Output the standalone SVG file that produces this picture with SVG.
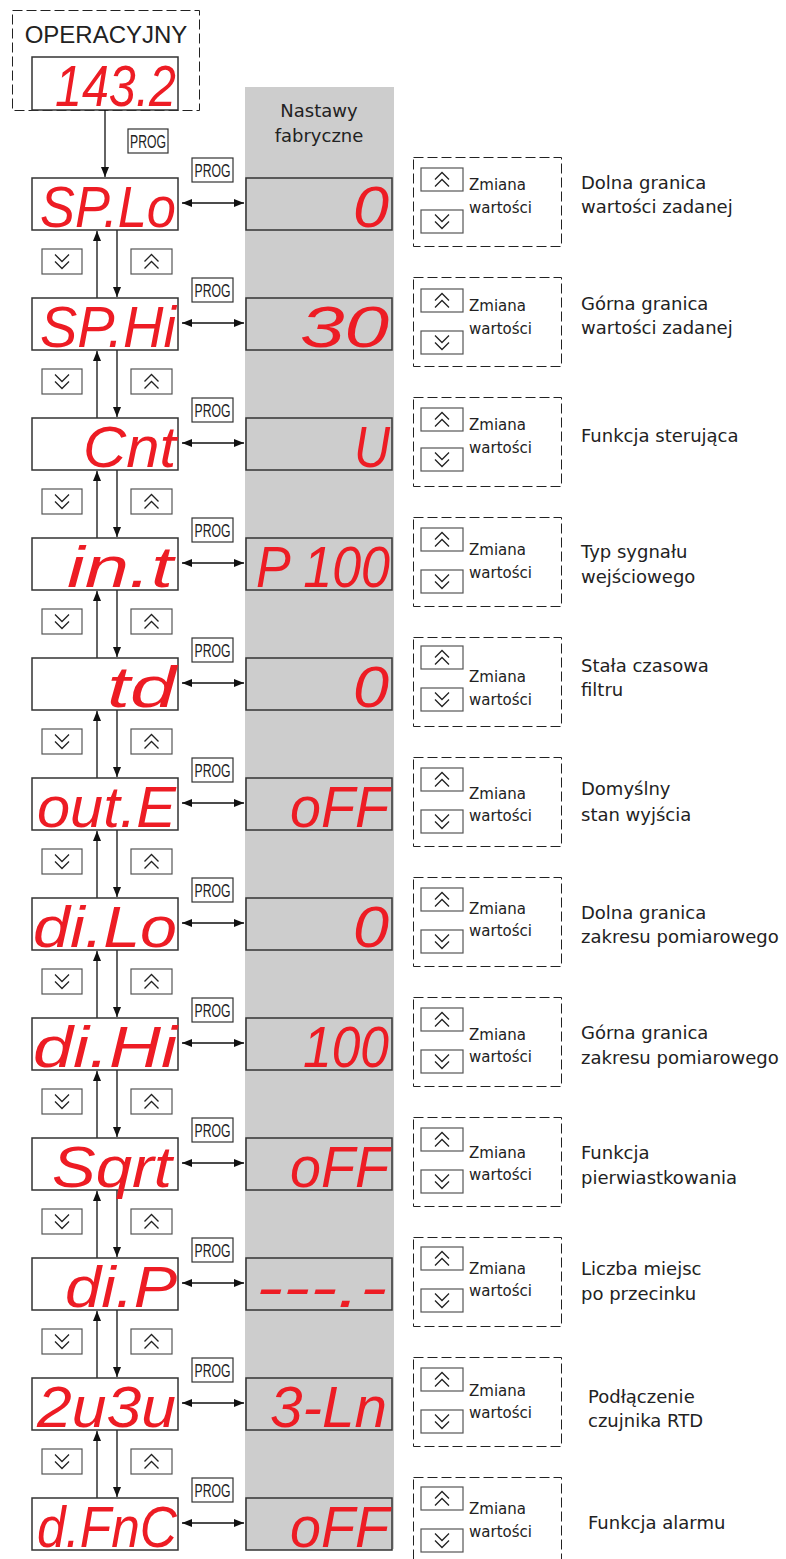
<svg xmlns="http://www.w3.org/2000/svg" xmlns:xlink="http://www.w3.org/1999/xlink" width="786" height="1559" viewBox="0 0 786 1559">
<style>
.disp{fill:#fff;stroke:#333;stroke-width:1.5}
.fdisp{fill:#cdcdcd;stroke:#333;stroke-width:1.5}
.seg{font-family:"Liberation Sans",sans-serif;font-style:italic;font-size:58px;fill:#ed1c24}
.btn{fill:#fff;stroke:#555;stroke-width:1.2}
.prog{fill:#fff;stroke:#333;stroke-width:1.2}
.progt{font-family:"Liberation Sans",sans-serif;font-size:18px;fill:#222;text-anchor:middle}
.dash{fill:none;stroke:#222;stroke-width:1;stroke-dasharray:10 4}
.lbl{font-family:"DejaVu Sans",sans-serif;font-size:15px;fill:#222}
.desc{font-family:"DejaVu Sans",sans-serif;font-size:18px;fill:#222}
.conn{stroke:#111;stroke-width:1.3;fill:none}
.chev{fill:none;stroke:#222;stroke-width:1.3}
</style>
<defs>
<marker id="ah" markerUnits="userSpaceOnUse" markerWidth="10" markerHeight="8" refX="10" refY="4" orient="auto-start-reverse"><path d="M0,0 L10,4 L0,8 z" fill="#111"/></marker>
<path id="chevD" class="chev" d="M-7,-7 L0,0 L7,-7 M-7,0 L0,7 L7,0"/>
<path id="chevU" class="chev" d="M-7,7 L0,0 L7,7 M-7,0 L0,-7 L7,0"/>
</defs>
<rect x="245" y="87" width="149" height="1462" fill="#cdcdcd"/>
<text x="319" y="117" class="desc" text-anchor="middle">Nastawy</text>
<text x="319" y="142" class="desc" text-anchor="middle">fabryczne</text>

<g id="operacyjny">
<rect x="12.5" y="10.5" width="187" height="100" class="dash"/>
<text x="106" y="43" font-family="Liberation Sans, sans-serif" font-size="24" fill="#222" text-anchor="middle">OPERACYJNY</text>
<rect x="32" y="57" width="146" height="53" class="disp"/>
<text x="55" y="106" class="seg" textLength="121" lengthAdjust="spacingAndGlyphs">143.2</text>
</g>

<g id="connectors">
<line x1="105" y1="110" x2="105" y2="177" class="conn" marker-end="url(#ah)"/>
<rect x="128" y="129" width="40" height="24" class="prog"/>
<text x="148" y="147.5" class="progt" textLength="36" lengthAdjust="spacingAndGlyphs">PROG</text>
<g marker-end="url(#ah)" class="conn">
<line x1="97" y1="298" x2="97" y2="231"/><line x1="117" y1="230" x2="117" y2="297"/>
<line x1="97" y1="418" x2="97" y2="351"/><line x1="117" y1="350" x2="117" y2="417"/>
<line x1="97" y1="538" x2="97" y2="471"/><line x1="117" y1="470" x2="117" y2="537"/>
<line x1="97" y1="658" x2="97" y2="591"/><line x1="117" y1="590" x2="117" y2="657"/>
<line x1="97" y1="778" x2="97" y2="711"/><line x1="117" y1="710" x2="117" y2="777"/>
<line x1="97" y1="898" x2="97" y2="831"/><line x1="117" y1="830" x2="117" y2="897"/>
<line x1="97" y1="1018" x2="97" y2="951"/><line x1="117" y1="950" x2="117" y2="1017"/>
<line x1="97" y1="1138" x2="97" y2="1071"/><line x1="117" y1="1070" x2="117" y2="1137"/>
<line x1="97" y1="1258" x2="97" y2="1191"/><line x1="117" y1="1190" x2="117" y2="1257"/>
<line x1="97" y1="1378" x2="97" y2="1311"/><line x1="117" y1="1310" x2="117" y2="1377"/>
<line x1="97" y1="1498" x2="97" y2="1431"/><line x1="117" y1="1430" x2="117" y2="1497"/>
</g>
<g class="conn" marker-start="url(#ah)" marker-end="url(#ah)">
<line x1="182" y1="203" x2="244" y2="203"/>
<line x1="182" y1="323" x2="244" y2="323"/>
<line x1="182" y1="443" x2="244" y2="443"/>
<line x1="182" y1="563" x2="244" y2="563"/>
<line x1="182" y1="683" x2="244" y2="683"/>
<line x1="182" y1="803" x2="244" y2="803"/>
<line x1="182" y1="923" x2="244" y2="923"/>
<line x1="182" y1="1043" x2="244" y2="1043"/>
<line x1="182" y1="1163" x2="244" y2="1163"/>
<line x1="182" y1="1283" x2="244" y2="1283"/>
<line x1="182" y1="1403" x2="244" y2="1403"/>
<line x1="182" y1="1523" x2="244" y2="1523"/>
</g>
<g id="nav-buttons">
<rect x="42" y="249" width="40" height="25" class="btn"/><use href="#chevD" x="62" y="261.5"/><rect x="131" y="249" width="41" height="25" class="btn"/><use href="#chevU" x="151.5" y="261.5"/>
<rect x="42" y="369" width="40" height="25" class="btn"/><use href="#chevD" x="62" y="381.5"/><rect x="131" y="369" width="41" height="25" class="btn"/><use href="#chevU" x="151.5" y="381.5"/>
<rect x="42" y="489" width="40" height="25" class="btn"/><use href="#chevD" x="62" y="501.5"/><rect x="131" y="489" width="41" height="25" class="btn"/><use href="#chevU" x="151.5" y="501.5"/>
<rect x="42" y="609" width="40" height="25" class="btn"/><use href="#chevD" x="62" y="621.5"/><rect x="131" y="609" width="41" height="25" class="btn"/><use href="#chevU" x="151.5" y="621.5"/>
<rect x="42" y="729" width="40" height="25" class="btn"/><use href="#chevD" x="62" y="741.5"/><rect x="131" y="729" width="41" height="25" class="btn"/><use href="#chevU" x="151.5" y="741.5"/>
<rect x="42" y="849" width="40" height="25" class="btn"/><use href="#chevD" x="62" y="861.5"/><rect x="131" y="849" width="41" height="25" class="btn"/><use href="#chevU" x="151.5" y="861.5"/>
<rect x="42" y="969" width="40" height="25" class="btn"/><use href="#chevD" x="62" y="981.5"/><rect x="131" y="969" width="41" height="25" class="btn"/><use href="#chevU" x="151.5" y="981.5"/>
<rect x="42" y="1089" width="40" height="25" class="btn"/><use href="#chevD" x="62" y="1101.5"/><rect x="131" y="1089" width="41" height="25" class="btn"/><use href="#chevU" x="151.5" y="1101.5"/>
<rect x="42" y="1209" width="40" height="25" class="btn"/><use href="#chevD" x="62" y="1221.5"/><rect x="131" y="1209" width="41" height="25" class="btn"/><use href="#chevU" x="151.5" y="1221.5"/>
<rect x="42" y="1329" width="40" height="25" class="btn"/><use href="#chevD" x="62" y="1341.5"/><rect x="131" y="1329" width="41" height="25" class="btn"/><use href="#chevU" x="151.5" y="1341.5"/>
<rect x="42" y="1449" width="40" height="25" class="btn"/><use href="#chevD" x="62" y="1461.5"/><rect x="131" y="1449" width="41" height="25" class="btn"/><use href="#chevU" x="151.5" y="1461.5"/>
</g>
<g id="prog-labels">
<rect x="192" y="158" width="41" height="24" class="prog"/><text x="212.5" y="176.5" class="progt" textLength="36" lengthAdjust="spacingAndGlyphs">PROG</text>
<rect x="192" y="278" width="41" height="24" class="prog"/><text x="212.5" y="296.5" class="progt" textLength="36" lengthAdjust="spacingAndGlyphs">PROG</text>
<rect x="192" y="398" width="41" height="24" class="prog"/><text x="212.5" y="416.5" class="progt" textLength="36" lengthAdjust="spacingAndGlyphs">PROG</text>
<rect x="192" y="518" width="41" height="24" class="prog"/><text x="212.5" y="536.5" class="progt" textLength="36" lengthAdjust="spacingAndGlyphs">PROG</text>
<rect x="192" y="638" width="41" height="24" class="prog"/><text x="212.5" y="656.5" class="progt" textLength="36" lengthAdjust="spacingAndGlyphs">PROG</text>
<rect x="192" y="758" width="41" height="24" class="prog"/><text x="212.5" y="776.5" class="progt" textLength="36" lengthAdjust="spacingAndGlyphs">PROG</text>
<rect x="192" y="878" width="41" height="24" class="prog"/><text x="212.5" y="896.5" class="progt" textLength="36" lengthAdjust="spacingAndGlyphs">PROG</text>
<rect x="192" y="998" width="41" height="24" class="prog"/><text x="212.5" y="1016.5" class="progt" textLength="36" lengthAdjust="spacingAndGlyphs">PROG</text>
<rect x="192" y="1118" width="41" height="24" class="prog"/><text x="212.5" y="1136.5" class="progt" textLength="36" lengthAdjust="spacingAndGlyphs">PROG</text>
<rect x="192" y="1238" width="41" height="24" class="prog"/><text x="212.5" y="1256.5" class="progt" textLength="36" lengthAdjust="spacingAndGlyphs">PROG</text>
<rect x="192" y="1358" width="41" height="24" class="prog"/><text x="212.5" y="1376.5" class="progt" textLength="36" lengthAdjust="spacingAndGlyphs">PROG</text>
<rect x="192" y="1478" width="41" height="24" class="prog"/><text x="212.5" y="1496.5" class="progt" textLength="36" lengthAdjust="spacingAndGlyphs">PROG</text>
</g>
</g>

<g id="row-splo">
<rect x="32" y="178" width="146" height="52" class="disp"/><text x="40" y="227" class="seg" textLength="136" lengthAdjust="spacingAndGlyphs">SP.Lo</text>
<rect x="246" y="178" width="146" height="52" class="fdisp"/><text x="353" y="227" class="seg" textLength="36" lengthAdjust="spacingAndGlyphs">0</text>
<rect x="413.5" y="157.5" width="148" height="89" class="dash"/>
<rect x="421" y="168" width="42" height="23" class="btn"/><use href="#chevU" x="442" y="179.5"/>
<rect x="421" y="210" width="42" height="23" class="btn"/><use href="#chevD" x="442" y="221.5"/>
<text x="469" y="190" class="lbl">Zmiana</text><text x="469" y="213" class="lbl">wartości</text>
<text x="581" y="189" class="desc">Dolna granica</text><text x="581" y="213" class="desc">wartości zadanej</text>
</g>

<g id="row-sphi">
<rect x="32" y="298" width="146" height="52" class="disp"/><text x="40" y="347" class="seg" textLength="136" lengthAdjust="spacingAndGlyphs">SP.Hi</text>
<rect x="246" y="298" width="146" height="52" class="fdisp"/><text x="300" y="347" class="seg" textLength="89" lengthAdjust="spacingAndGlyphs">30</text>
<rect x="413.5" y="277.5" width="148" height="89" class="dash"/>
<rect x="421" y="289" width="42" height="23" class="btn"/><use href="#chevU" x="442" y="300.5"/>
<rect x="421" y="331" width="42" height="23" class="btn"/><use href="#chevD" x="442" y="342.5"/>
<text x="469" y="311" class="lbl">Zmiana</text><text x="469" y="334" class="lbl">wartości</text>
<text x="581" y="310" class="desc">Górna granica</text><text x="581" y="334" class="desc">wartości zadanej</text>
</g>

<g id="row-cnt">
<rect x="32" y="418" width="146" height="52" class="disp"/><text x="83" y="467" class="seg" textLength="93" lengthAdjust="spacingAndGlyphs">Cnt</text>
<rect x="246" y="418" width="146" height="52" class="fdisp"/><text x="354" y="467" class="seg" textLength="36" lengthAdjust="spacingAndGlyphs">U</text>
<rect x="413.5" y="397.5" width="148" height="89" class="dash"/>
<rect x="421" y="408" width="42" height="23" class="btn"/><use href="#chevU" x="442" y="419.5"/>
<rect x="421" y="448" width="42" height="23" class="btn"/><use href="#chevD" x="442" y="459.5"/>
<text x="469" y="430" class="lbl">Zmiana</text><text x="469" y="453" class="lbl">wartości</text>
<text x="581" y="442" class="desc">Funkcja sterująca</text>
</g>

<g id="row-int">
<rect x="32" y="538" width="146" height="52" class="disp"/><text x="67" y="587" class="seg" textLength="106" lengthAdjust="spacingAndGlyphs">in.t</text>
<rect x="246" y="538" width="146" height="52" class="fdisp"/><text x="256" y="587" class="seg" textLength="134" lengthAdjust="spacingAndGlyphs">P 100</text>
<rect x="413.5" y="517.5" width="148" height="89" class="dash"/>
<rect x="421" y="528" width="42" height="23" class="btn"/><use href="#chevU" x="442" y="539.5"/>
<rect x="421" y="570" width="42" height="23" class="btn"/><use href="#chevD" x="442" y="581.5"/>
<text x="469" y="555" class="lbl">Zmiana</text><text x="469" y="578" class="lbl">wartości</text>
<text x="581" y="558" class="desc">Typ sygnału</text><text x="581" y="583" class="desc">wejściowego</text>
</g>

<g id="row-td">
<rect x="32" y="658" width="146" height="52" class="disp"/><text x="107" y="707" class="seg" textLength="69" lengthAdjust="spacingAndGlyphs">td</text>
<rect x="246" y="658" width="146" height="52" class="fdisp"/><text x="353" y="707" class="seg" textLength="36" lengthAdjust="spacingAndGlyphs">0</text>
<rect x="413.5" y="637.5" width="148" height="89" class="dash"/>
<rect x="421" y="646" width="42" height="23" class="btn"/><use href="#chevU" x="442" y="657.5"/>
<rect x="421" y="688" width="42" height="23" class="btn"/><use href="#chevD" x="442" y="699.5"/>
<text x="469" y="682" class="lbl">Zmiana</text><text x="469" y="705" class="lbl">wartości</text>
<text x="581" y="672" class="desc">Stała czasowa</text><text x="581" y="696" class="desc">filtru</text>
</g>

<g id="row-oute">
<rect x="32" y="778" width="146" height="52" class="disp"/><text x="37" y="827" class="seg" textLength="139" lengthAdjust="spacingAndGlyphs">out.E</text>
<rect x="246" y="778" width="146" height="52" class="fdisp"/><text x="290" y="827" class="seg" textLength="99" lengthAdjust="spacingAndGlyphs">oFF</text>
<rect x="413.5" y="757.5" width="148" height="89" class="dash"/>
<rect x="421" y="768" width="42" height="23" class="btn"/><use href="#chevU" x="442" y="779.5"/>
<rect x="421" y="810" width="42" height="23" class="btn"/><use href="#chevD" x="442" y="821.5"/>
<text x="469" y="799" class="lbl">Zmiana</text><text x="469" y="821" class="lbl">wartości</text>
<text x="581" y="795" class="desc">Domyślny</text><text x="581" y="821" class="desc">stan wyjścia</text>
</g>

<g id="row-dilo">
<rect x="32" y="898" width="146" height="52" class="disp"/><text x="33" y="947" class="seg" textLength="144" lengthAdjust="spacingAndGlyphs">di.Lo</text>
<rect x="246" y="898" width="146" height="52" class="fdisp"/><text x="353" y="947" class="seg" textLength="36" lengthAdjust="spacingAndGlyphs">0</text>
<rect x="413.5" y="877.5" width="148" height="89" class="dash"/>
<rect x="421" y="888" width="42" height="23" class="btn"/><use href="#chevU" x="442" y="899.5"/>
<rect x="421" y="930" width="42" height="23" class="btn"/><use href="#chevD" x="442" y="941.5"/>
<text x="469" y="914" class="lbl">Zmiana</text><text x="469" y="936" class="lbl">wartości</text>
<text x="581" y="919" class="desc">Dolna granica</text><text x="581" y="943" class="desc">zakresu pomiarowego</text>
</g>

<g id="row-dihi">
<rect x="32" y="1018" width="146" height="52" class="disp"/><text x="33" y="1067" class="seg" textLength="144" lengthAdjust="spacingAndGlyphs">di.Hi</text>
<rect x="246" y="1018" width="146" height="52" class="fdisp"/><text x="303" y="1067" class="seg" textLength="86" lengthAdjust="spacingAndGlyphs">100</text>
<rect x="413.5" y="997.5" width="148" height="89" class="dash"/>
<rect x="421" y="1008" width="42" height="23" class="btn"/><use href="#chevU" x="442" y="1019.5"/>
<rect x="421" y="1050" width="42" height="23" class="btn"/><use href="#chevD" x="442" y="1061.5"/>
<text x="469" y="1040" class="lbl">Zmiana</text><text x="469" y="1062" class="lbl">wartości</text>
<text x="581" y="1039" class="desc">Górna granica</text><text x="581" y="1064" class="desc">zakresu pomiarowego</text>
</g>

<g id="row-sqrt">
<rect x="32" y="1138" width="146" height="52" class="disp"/><text x="52" y="1187" class="seg" textLength="120" lengthAdjust="spacingAndGlyphs">Sqrt</text>
<rect x="246" y="1138" width="146" height="52" class="fdisp"/><text x="290" y="1187" class="seg" textLength="99" lengthAdjust="spacingAndGlyphs">oFF</text>
<rect x="413.5" y="1117.5" width="148" height="89" class="dash"/>
<rect x="421" y="1128" width="42" height="23" class="btn"/><use href="#chevU" x="442" y="1139.5"/>
<rect x="421" y="1170" width="42" height="23" class="btn"/><use href="#chevD" x="442" y="1181.5"/>
<text x="469" y="1158" class="lbl">Zmiana</text><text x="469" y="1180" class="lbl">wartości</text>
<text x="581" y="1159" class="desc">Funkcja</text><text x="581" y="1184" class="desc">pierwiastkowania</text>
</g>

<g id="row-dip">
<rect x="32" y="1258" width="146" height="52" class="disp"/><text x="65" y="1307" class="seg" textLength="112" lengthAdjust="spacingAndGlyphs">di.P</text>
<rect x="246" y="1258" width="146" height="52" class="fdisp"/><text x="256" y="1307" class="seg" textLength="131" lengthAdjust="spacingAndGlyphs">---.-</text>
<rect x="413.5" y="1237.5" width="148" height="89" class="dash"/>
<rect x="421" y="1247" width="42" height="23" class="btn"/><use href="#chevU" x="442" y="1258.5"/>
<rect x="421" y="1289" width="42" height="23" class="btn"/><use href="#chevD" x="442" y="1300.5"/>
<text x="469" y="1274" class="lbl">Zmiana</text><text x="469" y="1296" class="lbl">wartości</text>
<text x="581" y="1275" class="desc">Liczba miejsc</text><text x="581" y="1300" class="desc">po przecinku</text>
</g>

<g id="row-2u3u">
<rect x="32" y="1378" width="146" height="52" class="disp"/><text x="37" y="1427" class="seg" textLength="139" lengthAdjust="spacingAndGlyphs">2u3u</text>
<rect x="246" y="1378" width="146" height="52" class="fdisp"/><text x="270" y="1427" class="seg" textLength="117" lengthAdjust="spacingAndGlyphs">3-Ln</text>
<rect x="413.5" y="1357.5" width="148" height="89" class="dash"/>
<rect x="421" y="1368" width="42" height="23" class="btn"/><use href="#chevU" x="442" y="1379.5"/>
<rect x="421" y="1410" width="42" height="23" class="btn"/><use href="#chevD" x="442" y="1421.5"/>
<text x="469" y="1396" class="lbl">Zmiana</text><text x="469" y="1418" class="lbl">wartości</text>
<text x="588" y="1403" class="desc">Podłączenie</text><text x="588" y="1427" class="desc">czujnika RTD</text>
</g>

<g id="row-dfnc">
<rect x="32" y="1498" width="146" height="52" class="disp"/><text x="37" y="1547" class="seg" textLength="140" lengthAdjust="spacingAndGlyphs">d.FnC</text>
<rect x="246" y="1498" width="146" height="52" class="fdisp"/><text x="290" y="1547" class="seg" textLength="99" lengthAdjust="spacingAndGlyphs">oFF</text>
<rect x="413.5" y="1477.5" width="148" height="89" class="dash"/>
<rect x="421" y="1487" width="42" height="23" class="btn"/><use href="#chevU" x="442" y="1498.5"/>
<rect x="421" y="1529" width="42" height="23" class="btn"/><use href="#chevD" x="442" y="1540.5"/>
<text x="469" y="1514" class="lbl">Zmiana</text><text x="469" y="1537" class="lbl">wartości</text>
<text x="588" y="1529" class="desc">Funkcja alarmu</text>
</g>
</svg>
